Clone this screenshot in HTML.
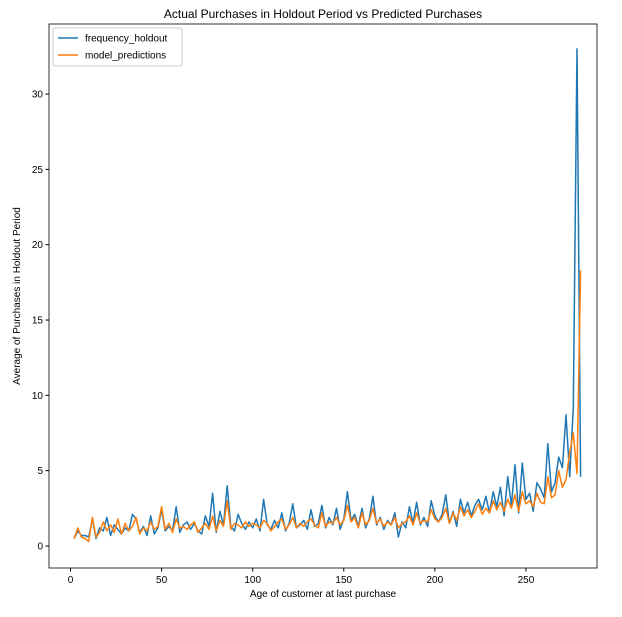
<!DOCTYPE html>
<html><head><meta charset="utf-8"><style>
body{margin:0;background:#fff;font-family:"Liberation Sans",sans-serif}
svg text{font-family:"Liberation Sans",sans-serif;font-size:10px;fill:#000}
</style></head><body>
<svg id="chart" width="622" height="612" xmlns="http://www.w3.org/2000/svg">
<text x="323" y="18" text-anchor="middle" style="font-size:12px">Actual Purchases in Holdout Period vs Predicted Purchases</text>
<g id="ticks"></g>
<g id="lines"></g>
<rect x="49" y="24" width="548" height="544" fill="none" stroke="#000" stroke-width="0.8"/>
<text x="323" y="597" text-anchor="middle">Age of customer at last purchase</text>
<text transform="translate(20,296) rotate(-90)" text-anchor="middle">Average of Purchases in Holdout Period</text>
<g>
<rect x="53" y="28" width="129" height="38" rx="2" fill="#fff" stroke="#ccc"/>
<line x1="58" y1="38" x2="78" y2="38" stroke="#1f77b4" stroke-width="1.5"/>
<text x="85" y="41.5">frequency_holdout</text>
<line x1="58" y1="55" x2="78" y2="55" stroke="#ff7f0e" stroke-width="1.5"/>
<text x="85" y="58.5">model_predictions</text>
</g>
</svg>
<script>
const xTicks=[0,50,100,150,200,250];
const yTicks=[0,5,10,15,20,25,30];
const frequencyHoldout=[0.5,1.0,0.7,0.7,0.6,1.8,0.5,1.2,1.0,1.9,0.7,1.4,1.1,0.8,1.2,1.0,2.1,1.8,0.9,1.3,0.7,2.0,0.8,1.2,2.4,
1.0,1.3,1.0,2.6,0.9,1.4,1.6,1.1,1.5,1.0,0.8,2.0,1.3,3.5,0.9,2.3,1.4,4.0,1.3,1.0,2.1,1.5,1.1,1.6,1.2,
1.8,1.0,3.1,1.4,1.1,1.7,1.2,2.2,1.0,1.5,2.8,1.2,1.4,1.7,1.1,2.4,1.3,1.5,2.7,1.2,1.9,1.4,2.5,1.1,1.8,
3.6,1.7,2.1,1.3,2.5,1.2,1.8,3.3,1.4,1.9,1.1,1.7,1.4,2.2,0.6,1.6,1.2,2.6,1.5,2.9,1.4,1.9,1.3,3.0,2.0,
1.6,2.1,3.4,1.5,2.3,1.3,3.1,2.2,2.9,2.0,2.7,3.1,2.4,3.3,2.2,3.6,2.6,3.9,2.0,4.6,2.7,5.4,2.2,5.5,3.1,
3.5,2.3,4.2,3.8,3.2,6.8,3.6,4.2,5.9,5.2,8.7,4.6,9.2,33,4.6];
const modelPredictions=[0.5,1.2,0.6,0.5,0.3,1.9,0.6,0.9,1.6,1.0,1.4,0.9,1.8,0.8,1.5,1.0,1.3,1.9,0.8,1.2,1.0,1.6,1.1,1.3,2.6,
1.1,1.5,0.9,1.8,1.2,1.3,1.1,1.4,1.6,0.9,1.2,1.5,1.1,2.0,1.0,1.7,1.3,3.0,1.1,1.5,1.4,1.2,1.6,1.3,1.5,
1.4,1.2,1.7,1.5,1.0,1.3,1.6,1.8,1.1,1.4,1.9,1.2,1.5,1.3,1.6,1.8,1.4,1.2,2.2,1.3,1.6,1.5,1.9,1.4,1.7,
2.7,1.6,1.9,1.2,2.2,1.4,1.7,2.5,1.5,1.8,1.3,1.6,1.4,1.9,1.2,1.5,1.6,2.0,1.4,2.2,1.5,1.7,1.6,2.4,1.8,
1.6,1.9,2.5,1.5,2.2,1.7,2.6,2.0,2.4,1.9,2.3,2.8,2.1,2.5,2.2,3.0,2.4,2.9,2.3,3.1,2.5,3.4,2.3,3.6,2.8,
3.0,2.6,3.5,2.9,2.8,4.6,3.2,3.4,5.0,3.9,4.4,6.2,7.5,4.8,18.3];
const ages=frequencyHoldout.map((_,i)=>i*2+2);
const NS='http://www.w3.org/2000/svg';
const X0=49,X1=597,Y0=24,Y1=568,xmin=-11.8,xmax=289,ymin=-1.46,ymax=34.65;
const sx=v=>X0+(v-xmin)/(xmax-xmin)*(X1-X0);
const sy=v=>Y1-(v-ymin)/(ymax-ymin)*(Y1-Y0);
const tg=document.getElementById('ticks');
xTicks.forEach(t=>{
 const l=document.createElementNS(NS,'line');
 
 
 l.setAttribute('x1',sx(t));l.setAttribute('x2',sx(t));l.setAttribute('y1',Y1);l.setAttribute('y2',Y1+3.5);l.setAttribute('stroke','#000');
 tg.appendChild(l);
 const s=document.createElementNS(NS,'text');
 
 
 s.setAttribute('x',sx(t));s.setAttribute('y',Y1+15);s.setAttribute('text-anchor','middle');s.textContent=t;
 tg.appendChild(s);
});
yTicks.forEach(t=>{
 const l=document.createElementNS(NS,'line');
 
 
 l.setAttribute('x1',X0-3.5);l.setAttribute('x2',X0);l.setAttribute('y1',sy(t));l.setAttribute('y2',sy(t));l.setAttribute('stroke','#000');
 tg.appendChild(l);
 const s=document.createElementNS(NS,'text');
 
 
 s.setAttribute('x',X0-6);s.setAttribute('y',sy(t)+3.5);s.setAttribute('text-anchor','end');s.textContent=t;
 tg.appendChild(s);
});
const lg=document.getElementById('lines');
[[frequencyHoldout,'#1f77b4','frequency-holdout-line'],[modelPredictions,'#ff7f0e','model-predictions-line']].forEach(([d,c,n])=>{
 const p=document.createElementNS(NS,'path');
 
 
 p.setAttribute('d',d.map((v,i)=>(i?'L':'M')+sx(ages[i]).toFixed(1)+','+sy(v).toFixed(1)).join(''));
 p.setAttribute('fill','none');p.setAttribute('stroke',c);p.setAttribute('stroke-width','1.5');p.setAttribute('stroke-linejoin','round');
 lg.appendChild(p);
});
</script>
</body></html>
